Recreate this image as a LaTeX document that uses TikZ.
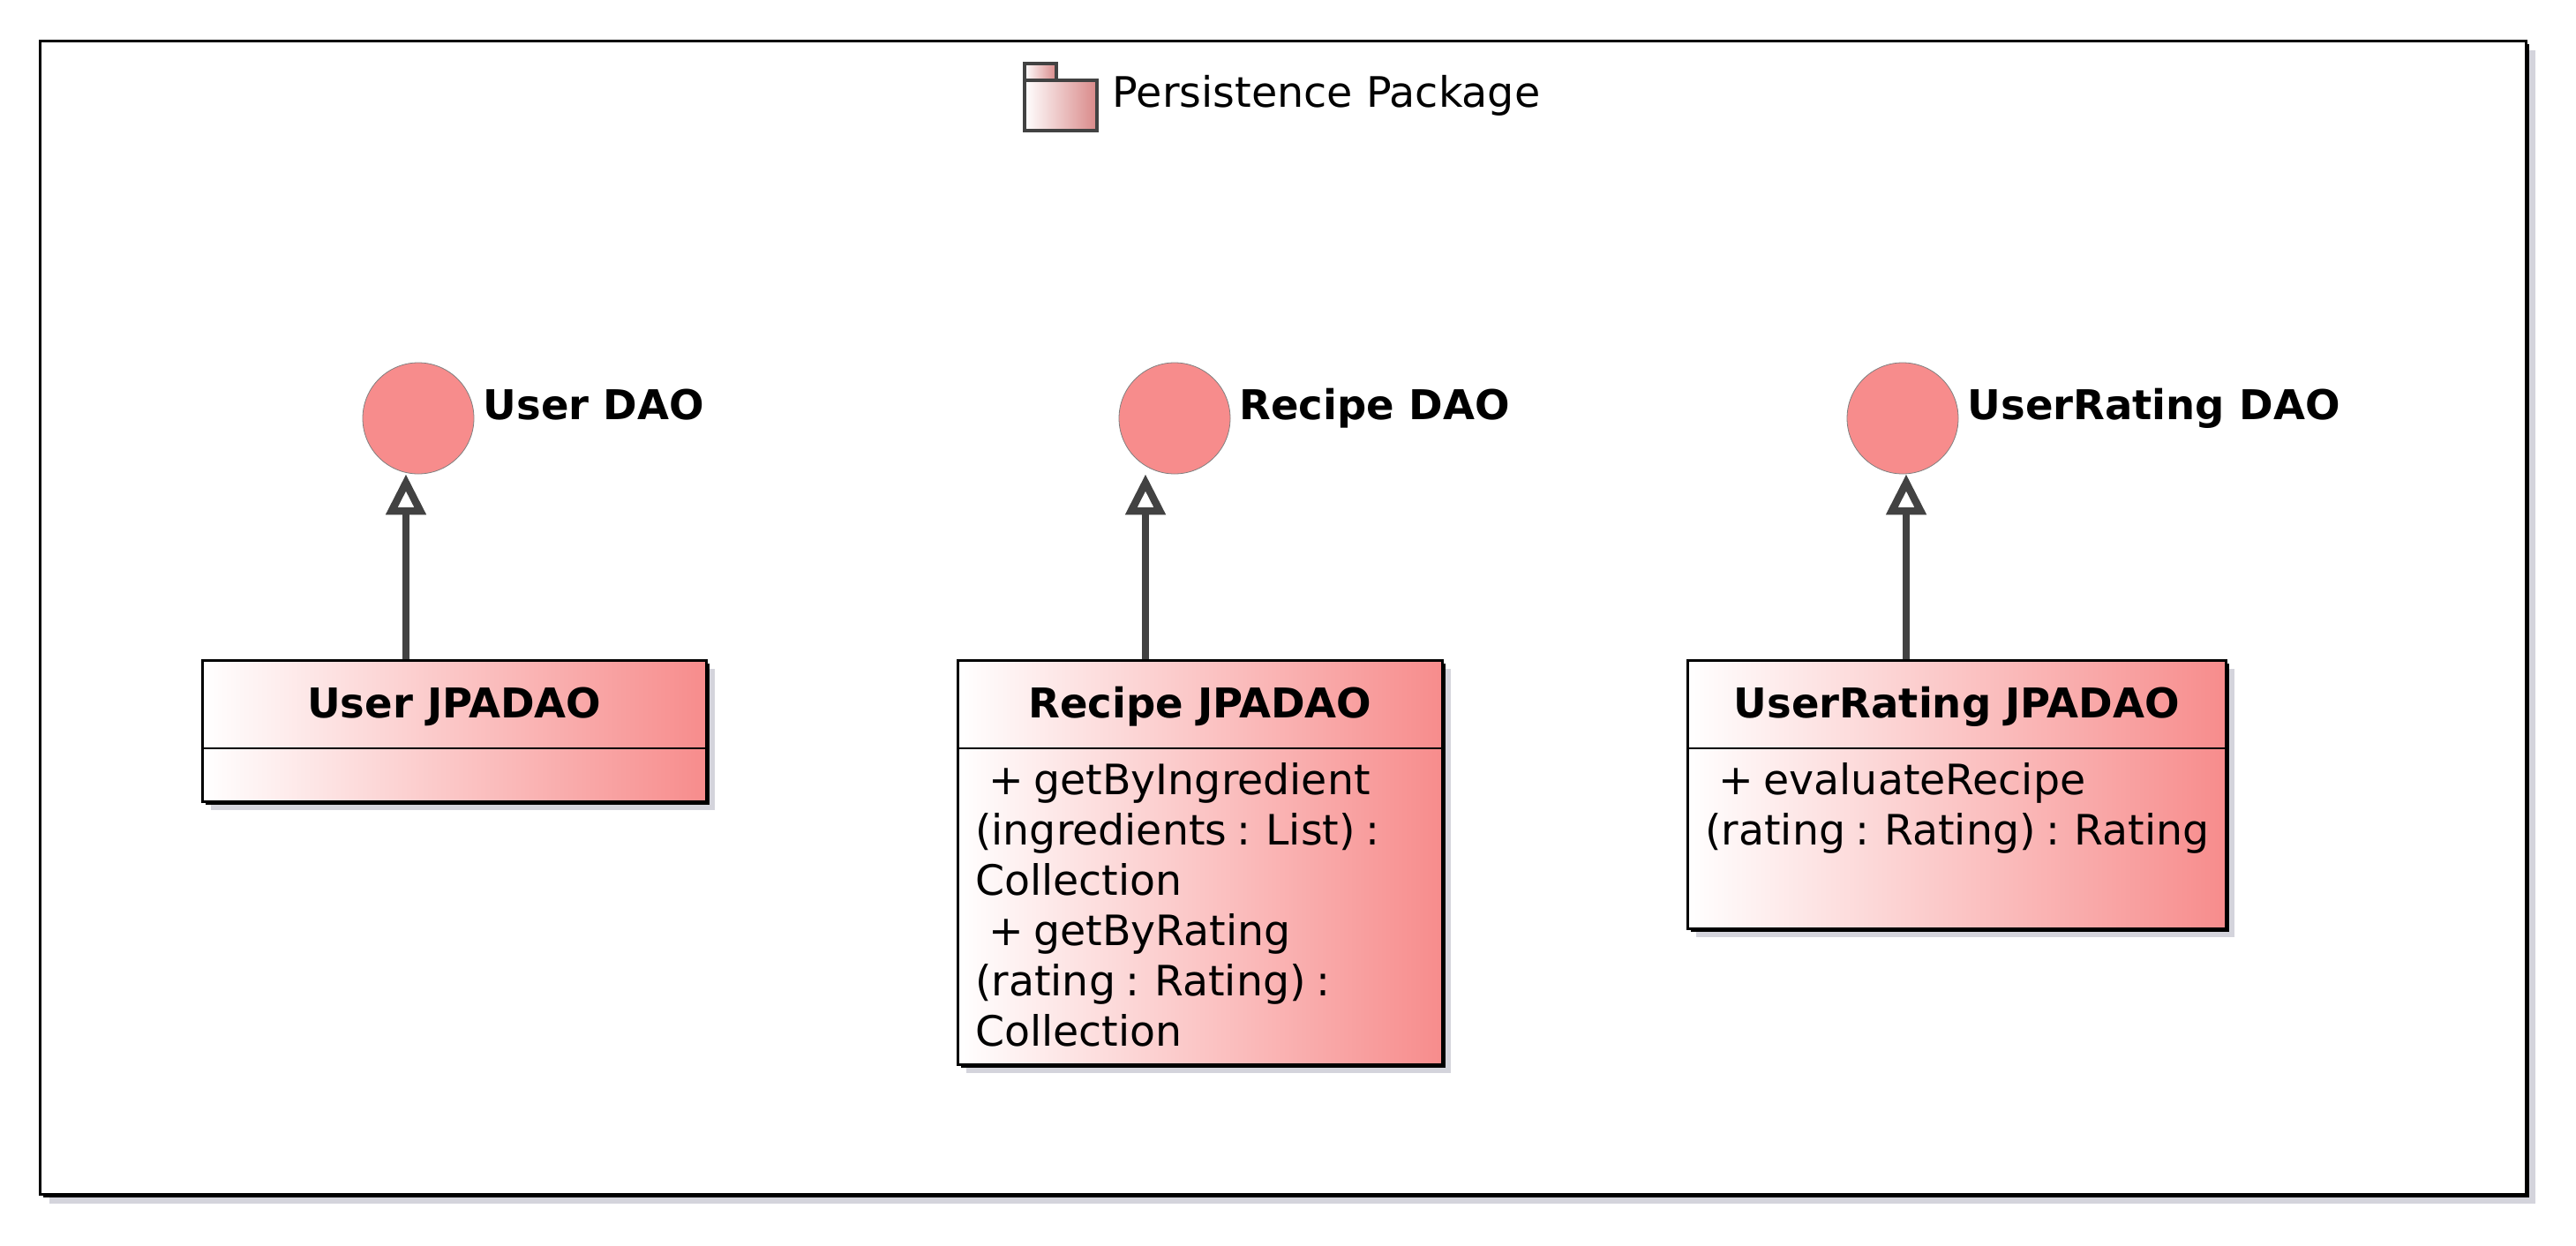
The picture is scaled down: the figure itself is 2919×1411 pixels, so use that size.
\documentclass[tikz,border=0pt]{standalone}
\usepackage{fontspec}
\usepackage{xcolor}
\setmainfont{DejaVu Sans}
\usetikzlibrary{arrows.meta, positioning, shadows}
\definecolor{daocolor}{RGB}{247,140,140}
\definecolor{linkcolor}{RGB}{66,66,66}
\definecolor{shadecolor}{RGB}{212,212,220}
\tikzset{
  packagebox/.style={draw=black, line width=3pt, fill=white, minimum width=2817pt,
                     minimum height=1307pt, anchor=north west, inner sep=0pt,
                     drop shadow={shadow xshift=10pt, shadow yshift=-10pt, fill=shadecolor, opacity=1},
                     drop shadow={shadow xshift=3pt, shadow yshift=-3pt, fill=black, opacity=1}},
  classbox/.style={draw=black, line width=2.5pt, left color=white, right color=daocolor,
                   anchor=north west, inner sep=0pt, minimum width=#1,
                   drop shadow={shadow xshift=10pt, shadow yshift=-10pt, fill=shadecolor, opacity=1},
                   drop shadow={shadow xshift=3.5pt, shadow yshift=-3.5pt, fill=black, opacity=1}},
  daocircle/.style={circle, draw=gray, line width=0.8pt, fill=daocolor, minimum size=126pt,
                    inner sep=0pt},
  daolabel/.style={font=\fontsize{46.5}{56}\selectfont\bfseries, inner sep=0pt},
  classtitle/.style={font=\fontsize{46.5}{56}\selectfont\bfseries, inner sep=0pt},
  members/.style={font=\fontsize{47.4}{57}\selectfont, inner sep=0pt,
                  execute at begin node={\spaceskip=11.6pt\relax},
                  align=left, anchor=north west},
  divider/.style={draw=black, line width=2pt},
  realize/.style={-{Triangle[open, length=46pt, width=44pt, line width=8.5pt]},
                  line width=8.5pt, draw=linkcolor},
  iconpart/.style={draw=linkcolor, line width=3.5pt, left color=white, right color=daocolor!75!gray,
                   anchor=north west, inner sep=0pt},
}
\begin{document}
\begin{tikzpicture}[x=1pt, y=-1pt]
  \useasboundingbox (0,0) rectangle (2919,1411);
  \node[packagebox] (package) at (44,45) {};

  % package title with its small folder
  \node[iconpart, minimum width=36pt, minimum height=20pt] (icontab) at (1159,70) {};
  \node[iconpart, minimum width=82pt, minimum height=57pt] (iconbody) at (1159,89) {};
  \node[font=\fontsize{47.6}{56}\selectfont, inner sep=0pt, right=16pt of iconbody, yshift=11pt]
    (packagetitle) {Persistence Package};

  % interfaces
  \node[daocircle] (userdao) at (474,474) {};
  \node[daocircle, right=857pt of userdao.center, anchor=center] (recipedao) {};
  \node[daocircle, right=825pt of recipedao.center, anchor=center] (ratingdao) {};
  \node[daolabel, right=10pt of userdao, anchor=base west, yshift=-1pt] (userlabel) {User DAO};
  \node[daolabel, right=10pt of recipedao, anchor=base west, yshift=-1pt] (recipelabel) {Recipe DAO};
  \node[daolabel, right=10pt of ratingdao, anchor=base west, yshift=-1pt] (ratinglabel) {UserRating DAO};

  % classes
  \node[classbox=571pt, minimum height=160pt] (userjpa) at (228,747) {};
  \node[classbox=549pt, minimum height=458pt] (recipejpa) at (1084,747) {};
  \node[classbox=610pt, minimum height=304pt] (ratingjpa) at (1911,747) {};

  \node[classtitle, below=66pt of userjpa.north, anchor=base] (usertitle) {User JPADAO};
  \node[classtitle, below=66pt of recipejpa.north, anchor=base] (recipetitle) {Recipe JPADAO};
  \node[classtitle, below=66pt of ratingjpa.north, anchor=base] (ratingtitle) {UserRating JPADAO};

  \draw[divider] ([yshift=-101pt]userjpa.north west) -- ([yshift=-101pt]userjpa.north east);
  \draw[divider] ([yshift=-101pt]recipejpa.north west) -- ([yshift=-101pt]recipejpa.north east);
  \draw[divider] ([yshift=-101pt]ratingjpa.north west) -- ([yshift=-101pt]ratingjpa.north east);

  \node[members, below right=117pt and 21pt of recipejpa.north west] (recipemembers)
    {\hspace*{15pt}+ getByIngredient\\(ingredients : List) :\\Collection\\
     \hspace*{15pt}+ getByRating\\(rating : Rating) :\\Collection};
  \node[members, below right=117pt and 21pt of ratingjpa.north west] (ratingmembers)
    {\hspace*{15pt}+ evaluateRecipe\\(rating : Rating) : Rating};

  % realizations
  \draw[realize] ([xshift=-14pt]userdao.south |- userjpa.north) -- ([xshift=-14pt]userdao.south);
  \draw[realize] ([xshift=-33pt]recipedao.south |- recipejpa.north) -- ([xshift=-33pt]recipedao.south);
  \draw[realize] ([xshift=4pt]ratingdao.south |- ratingjpa.north) -- ([xshift=4pt]ratingdao.south);
\end{tikzpicture}
\end{document}
